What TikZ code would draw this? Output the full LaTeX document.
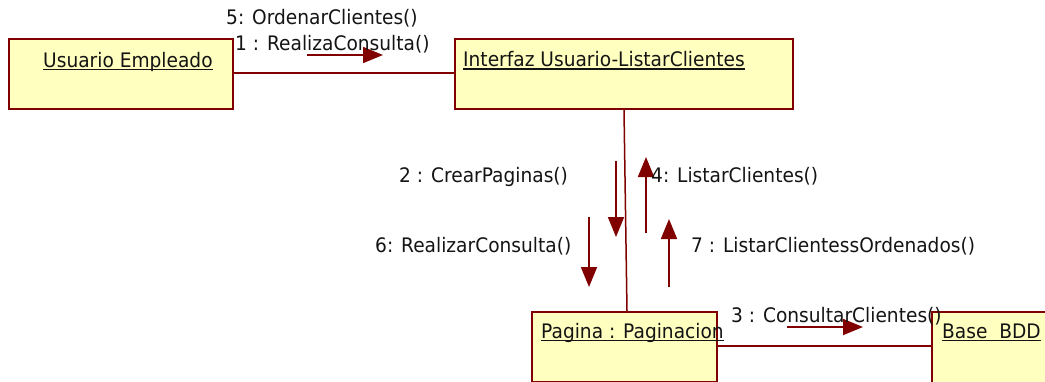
\documentclass[tikz,border=0pt]{standalone}
\usepackage{fontspec}
\setmainfont{DejaVu Sans}[FakeStretch=0.93]
\usetikzlibrary{arrows.meta}
\definecolor{umlred}{RGB}{128,0,0}
\definecolor{umlfill}{RGB}{255,255,192}
\definecolor{txt}{RGB}{20,20,20}
\begin{document}
\begin{tikzpicture}[x=1pt,y=-1pt,
  box/.style={draw=umlred,fill=umlfill,line width=2pt,anchor=north west,inner sep=0pt},
  link/.style={draw=umlred,line width=1.5pt},
  msg/.style={draw=umlred,line width=1.8pt,-{Triangle[length=20pt,width=16pt]}},
  lbl/.style={anchor=base west,inner sep=0pt,font=\fontsize{20}{23}\selectfont,text=txt},
  ulin/.style={line width=1.6pt,draw=txt}]
\useasboundingbox (0,0) rectangle (1045,381);
% boxes
\node[box,minimum width=224pt,minimum height=70pt] (ue) at (8,38) {};
\node[box,minimum width=338pt,minimum height=70pt] (ui) at (454,38) {};
\node[box,minimum width=185pt,minimum height=70pt] (pg) at (531,311) {};
\node[box,minimum width=130pt,minimum height=75pt] (bd) at (931,311) {};
% links
\draw[link] (ue.east |- 0,73) -- (ui.west |- 0,73);
\draw[link] (ui.south) -- ([xshift=2.5pt]pg.north);
\draw[link] (pg.east |- 0,346) -- (bd.west |- 0,346);
% box titles
\node[lbl] (tue) at (43,67) {Usuario Empleado};
\node[lbl] (tui) at (463,66.5) {Interfaz Usuario-ListarClientes};
\node[lbl] (tpg) at (541,338) {Pagina : Paginacion};
\node[lbl] (tbd) at (942,338) {Base\ \ BDD};
\foreach \t in {tue,tui,tpg,tbd}
  \draw[ulin] ([yshift=-2.5pt]\t.base west) -- ([yshift=-2.5pt]\t.base east);
% message arrows
\coordinate (m1a) at (307,55); \coordinate (m1b) at (383,55);
\coordinate (m3a) at (787,327); \coordinate (m3b) at (863,327);
\coordinate (m2a) at (616,161); \coordinate (m2b) at (616,237);
\coordinate (m4a) at (646,233); \coordinate (m4b) at (646,157);
\coordinate (m6a) at (589,217); \coordinate (m6b) at (589,287);
\coordinate (m7a) at (669,287); \coordinate (m7b) at (669,219);
\draw[msg] (m1a) -- (m1b);
\draw[msg] (m3a) -- (m3b);
\draw[msg] (m2a) -- (m2b);
\draw[msg] (m4a) -- (m4b);
\draw[msg] (m6a) -- (m6b);
\draw[msg] (m7a) -- (m7b);
% message labels
\node[lbl] (l5) at (226,24) {5: OrdenarClientes()};
\node[lbl] (l1) at (235,50) {1 : RealizaConsulta()};
\node[lbl] (l2) at (399,182) {2 : CrearPaginas()};
\node[lbl] (l4) at (651,182) {4: ListarClientes()};
\node[lbl] (l6) at (375,252) {6: RealizarConsulta()};
\node[lbl] (l7) at (691,252) {7 : ListarClientessOrdenados()};
\node[lbl] (l3) at (731,322) {3 : ConsultarClientes()};
\end{tikzpicture}
\end{document}
